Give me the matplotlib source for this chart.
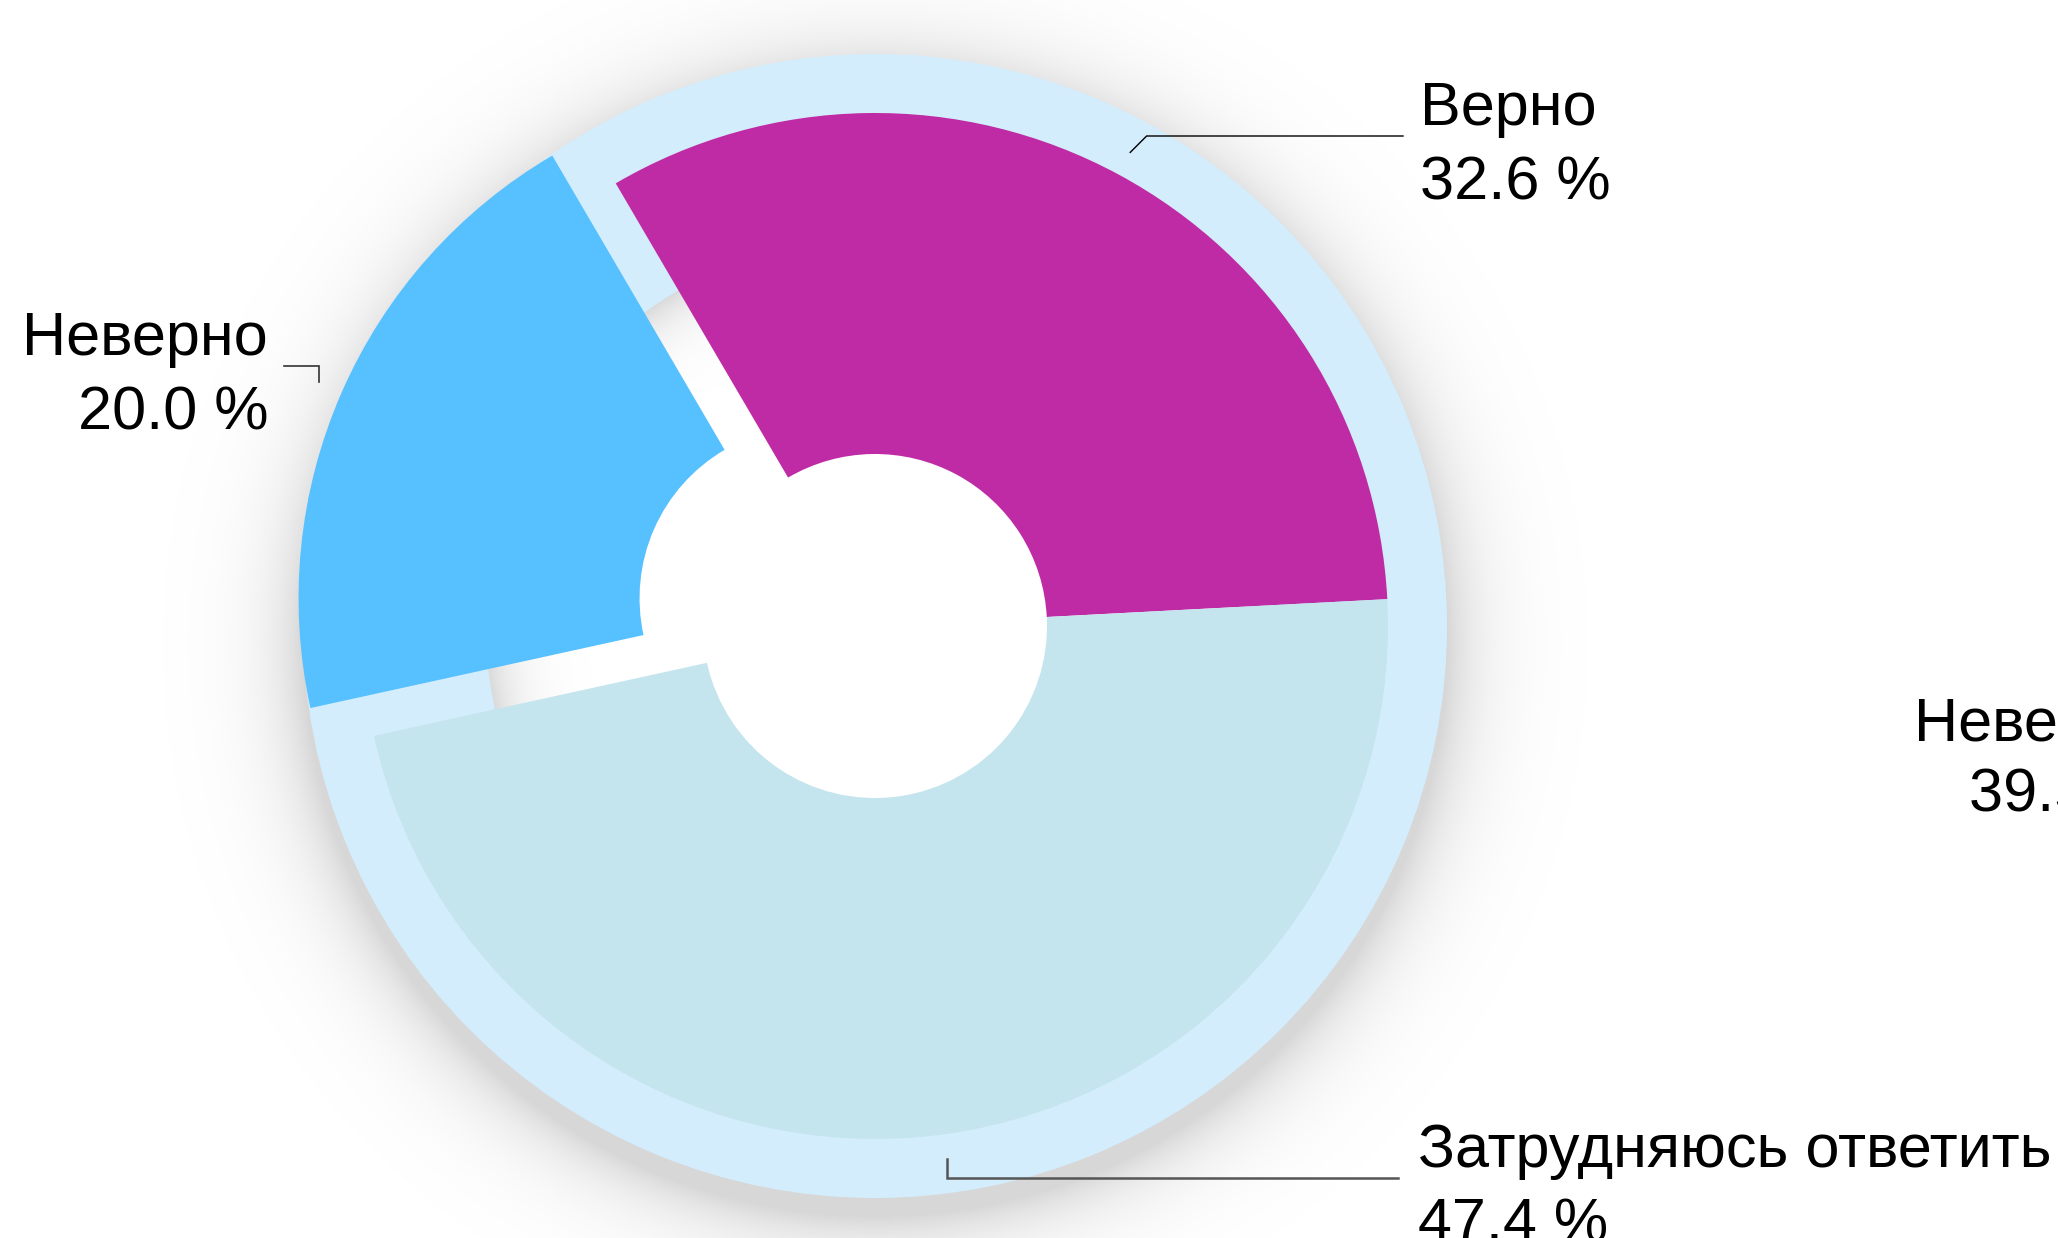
import numpy as np
import matplotlib
matplotlib.use('Agg')
import matplotlib.pyplot as plt
from matplotlib.patches import Wedge

# data
labels = ['Верно', 'Неверно', 'Затрудняюсь ответить']
values = [32.6, 20.0, 47.4]
colors = ['#bf2ba5', '#57c0ff', '#c5e5ee']
explode = [0, 0.135, 0]  # fraction of the radius
# the next chart's label, cut off by the right edge
side_label = 'Неверно'
side_value = 39.5

W, H = 2058, 1238
plt.rcParams['font.family'] = ['Liberation Sans', 'DejaVu Sans']

fig = plt.figure(figsize=(W / 100, H / 100), dpi=100)
ax = fig.add_axes([0, 0, 1, 1])

# geometry in pixels (y measured upward)
cx, cy = 875, H - 626
r_out, r_in = 513, 172
ring_out, ring_in = 572, 389


def py(y):  # pixel row -> data y
    return H - y


# soft shadow around the ring and inside it
rows, cols = np.mgrid[0:H, 0:W]
xs = cols + 0.5
ys = H - rows - 0.5
d = np.hypot(xs - cx, ys - cy)
d_sh = np.hypot(xs - cx, ys - (cy - 18))
alpha = 0.16 * np.exp(-np.clip(d_sh - ring_out, 0, None) / 38)
inner = 0.15 * np.exp(-np.clip(ring_in - d, 0, None) / 28)
alpha = np.where(d < ring_in, inner, alpha)
img = np.zeros((H, W, 4))
img[..., 3] = alpha
ax.imshow(img, extent=(0, W, 0, H), origin='upper', zorder=0, interpolation='bilinear')

# light blue background ring
ax.add_patch(Wedge((cx, cy), ring_out, 0, 360, width=ring_out - ring_in,
                   facecolor='#d3edfc', edgecolor='none', zorder=1))

wedges, _ = ax.pie(values, colors=colors, explode=[e * r_out for e in explode],
                   startangle=3, counterclock=True, radius=r_out, center=(cx, cy),
                   wedgeprops=dict(width=r_out - r_in, linewidth=0, zorder=2),
                   frame=False)

# labels with leader lines
line_y = [136, 366, 1178]
line_end = [1403, 284, 1398]
text_x = [1420, 268, 1418]
line_col = ['#000000', '#333333', '#555555']
line_w = [1.0, 1.2, 1.8]

for i, w in enumerate(wedges):
    mid = np.deg2rad((w.theta1 + w.theta2) / 2)
    ax_, ay_ = w.center[0] + 538 * np.cos(mid), w.center[1] + 538 * np.sin(mid)
    ly = py(line_y[i])
    if i == 0:
        kx = ax_ + (ay_ - ly) * -1
    else:
        kx = ax_
    ax.plot([ax_, kx, line_end[i]], [ay_, ly, ly], color=line_col[i],
            lw=line_w[i], zorder=3, solid_joinstyle='miter')
    ha = 'right' if text_x[i] < cx else 'left'
    ax.text(text_x[i], ly + 11, labels[i], ha=ha, va='baseline', fontsize=44, color='black')
    ax.text(text_x[i], ly - 64, f'{values[i]:.1f} %', ha=ha, va='baseline', fontsize=44, color='black')

ax.text(2160, py(741), side_label, ha='right', va='baseline', fontsize=44, color='black')
ax.text(2160, py(812), f'{side_value:.1f} %', ha='right', va='baseline', fontsize=44, color='black')

ax.set_xlim(0, W)
ax.set_ylim(0, H)
ax.set_aspect('auto')
ax.axis('off')

fig.savefig('out.png', dpi=100, facecolor='white')
